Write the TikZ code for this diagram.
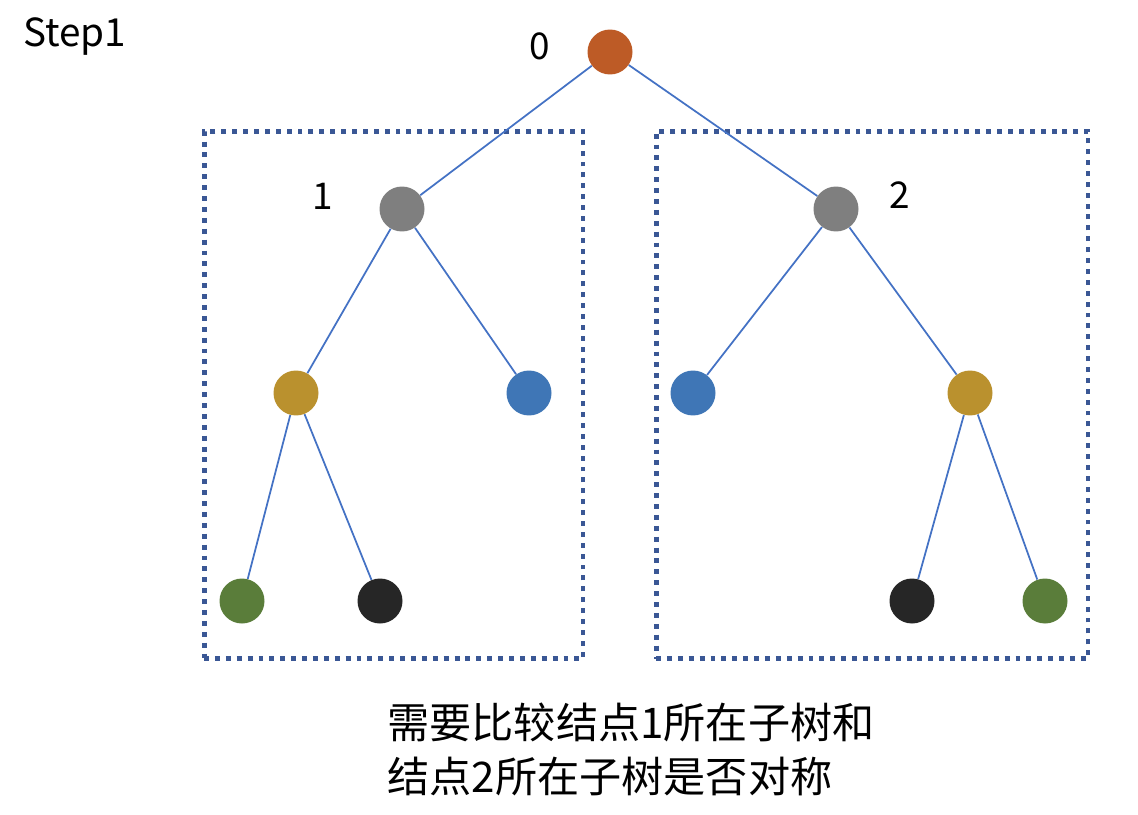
\documentclass[tikz,border=0pt]{standalone}
\usepackage{fontspec}
\setmainfont{Noto Sans CJK SC}
\definecolor{edgec}{HTML}{4472C4}
\definecolor{boxc}{HTML}{3A5795}
\definecolor{cRoot}{HTML}{BD5B26}
\definecolor{cGray}{HTML}{7F7F7F}
\definecolor{cGold}{HTML}{BA912E}
\definecolor{cBlue}{HTML}{3F76B6}
\definecolor{cGreen}{HTML}{5A7D3A}
\definecolor{cBlack}{HTML}{262626}
\begin{document}
\begin{tikzpicture}[x=0.02cm,y=-0.02cm,
  tn/.style={circle,minimum size=0.9cm,inner sep=0pt,fill=#1},
  edge/.style={draw=edgec,line width=1pt},
  dotbox/.style={draw=boxc,line width=2.8pt,dash pattern=on 2.8pt off 3.4pt},
  lbl/.style={font=\fontsize{21}{25}\selectfont,inner sep=0pt}]
\useasboundingbox (0,0) rectangle (1138,814);
\node[dotbox,minimum width=7.58cm,minimum height=10.56cm,inner sep=0pt] (boxL) at (393.5,395) {};
\node[dotbox,minimum width=8.64cm,minimum height=10.56cm,inner sep=0pt] (boxR) at (872,395) {};
\node[tn=cRoot] (n0) at (610,52) {};
\node[tn=cGray] (n1) at (402,209) {};
\node[tn=cGray] (n2) at (836,209) {};
\node[tn=cGold] (n1l) at (296,393) {};
\node[tn=cBlue] (n1r) at (529,393) {};
\node[tn=cBlue] (n2l) at (693,393) {};
\node[tn=cGold] (n2r) at (970,393) {};
\node[tn=cGreen] (n1ll) at (242,601) {};
\node[tn=cBlack] (n1lr) at (380,601) {};
\node[tn=cBlack] (n2rl) at (912,601) {};
\node[tn=cGreen] (n2rr) at (1045,601) {};
\draw[edge] (n0) -- (n1);
\draw[edge] (n0) -- (n2);
\draw[edge] (n1) -- (n1l);
\draw[edge] (n1) -- (n1r);
\draw[edge] (n2) -- (n2l);
\draw[edge] (n2) -- (n2r);
\draw[edge] (n1l) -- (n1ll);
\draw[edge] (n1l) -- (n1lr);
\draw[edge] (n2r) -- (n2rl);
\draw[edge] (n2r) -- (n2rr);
\node[lbl,anchor=west,font=\fontsize{22}{26}\selectfont] (step) at (23,37) {Step1};
\node[lbl] (l0) at (540,46) {0};
\node[lbl] (l1) at (323,196) {1};
\node[lbl] (l2) at (900,195) {2};
\node[anchor=north west,align=left,inner sep=0pt,font=\fontsize{24}{30.5}\selectfont] (txt) at (387,703) {需要比较结点1所在子树和\\结点2所在子树是否对称};
\end{tikzpicture}
\end{document}
